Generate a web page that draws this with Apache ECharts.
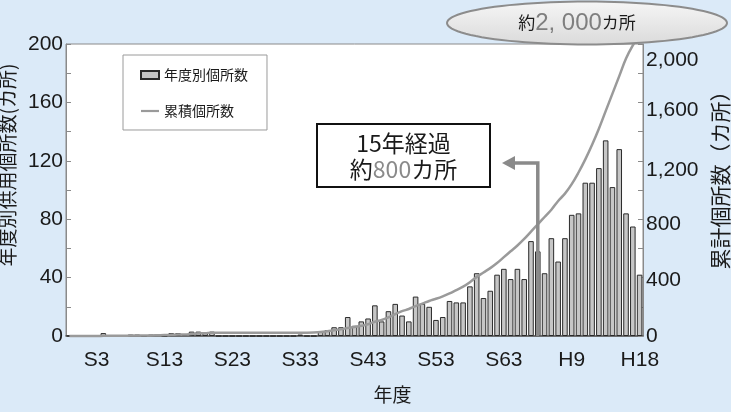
<!DOCTYPE html>
<html>
<head>
<meta charset="utf-8">
<script src="https://cdn.jsdelivr.net/npm/echarts@6/dist/echarts.min.js"></script>
<style>
  html, body { margin: 0; padding: 0; background: #dbeaf8; }
  #chart { width: 731px; height: 412px; }
</style>
</head>
<body>
<div id="chart"></div>
<script>
// Fiscal-year categories (Taisho / Showa / Heisei), one bar per year
const categories = [
  'T14','T15',
  'S1','S2','S3','S4','S5','S6','S7','S8','S9','S10',
  'S11','S12','S13','S14','S15','S16','S17','S18','S19','S20',
  'S21','S22','S23','S24','S25','S26','S27','S28','S29','S30',
  'S31','S32','S33','S34','S35','S36','S37','S38','S39','S40',
  'S41','S42','S43','S44','S45','S46','S47','S48','S49','S50',
  'S51','S52','S53','S54','S55','S56','S57','S58','S59','S60',
  'S61','S62','S63','S64',
  'H1','H2','H3','H4','H5','H6','H7','H8','H9','H10',
  'H11','H12','H13','H14','H15','H16','H17','H18','H19'
];

// Labelled years on the horizontal axis
const xTickLabels = ['S3','S13','S23','S33','S43','S53','S63','H9','H18'];

// Places brought into service each year (カ所)
const yearlyCount = [
  0, 0, 0, 0, 0, 2, 0, 0, 0, 1,
  1, 0, 1, 1, 0, 2, 2, 1, 3, 3,
  2, 3, 0, 0, 0, 0, 0, 0, 0, 0,
  0, 0, 0, 0, 1, 0, 0, 3, 4, 6,
  6, 13, 7, 10, 12, 21, 10, 17, 22, 14,
  10, 27, 22, 20, 11, 13, 24, 23, 23, 34,
  43, 26, 31, 42, 46, 39, 46, 39, 65, 58,
  43, 67, 51, 67, 83, 84, 105, 105, 115, 134,
  102, 128, 84, 75, 42
];

// Cumulative number of places (カ所)
const cumulativeCount = [
  0, 0, 0, 0, 0, 1, 2, 2, 2, 3,
  3, 4, 4, 5, 6, 8, 10, 11, 14, 17,
  19, 22, 22, 22, 22, 22, 22, 22, 22, 22,
  22, 22, 22, 22, 23, 23, 24, 27, 33, 40,
  46, 55, 62, 70, 80, 98, 110, 128, 150, 170,
  185, 205, 222, 240, 255, 272, 292, 315, 338, 368,
  405, 435, 465, 500, 540, 580, 620, 665, 715, 765,
  815, 865, 925, 975, 1040, 1120, 1210, 1310, 1420, 1540,
  1660, 1780, 1900, 1990, 2060
];

// Year marked by the "15 years elapsed" arrow
const markedYear = 'H4';

const CJK = '"Noto Sans CJK JP", sans-serif';
const LATIN = '"Liberation Sans", Arial, sans-serif';
const INK = '#1a1a1a';

// Right-axis labels sit a little below their ticks
const rightLabelDrop = { 0: 0, 400: 3, 800: 5, 1200: 9, 1600: 8, 2000: 16 };
const rightRich = {};
Object.keys(rightLabelDrop).forEach(v => {
  rightRich['v' + v] = {
    fontSize: 21, color: INK, fontFamily: LATIN,
    padding: [rightLabelDrop[v] * 2, 0, 0, 0]
  };
});

const chart = echarts.init(document.getElementById('chart'), null, { renderer: 'canvas' });

chart.setOption({
  animation: false,
  backgroundColor: '#dbeaf8',
  grid: {
    left: 66, right: 88, top: 44, bottom: 76,
    containLabel: false, outerBoundsMode: 'none',
    show: true, backgroundColor: '#ffffff', borderColor: '#8a8a8a', borderWidth: 1
  },
  legend: {
    orient: 'vertical',
    left: 123, top: 55,
    padding: [13, 19, 12, 17],
    itemGap: 22,
    itemWidth: 18, itemHeight: 8,
    backgroundColor: '#ffffff',
    borderColor: '#9a9a9a', borderWidth: 1,
    textStyle: { fontSize: 14, color: INK, fontFamily: CJK },
    data: [
      { name: '年度別個所数', icon: 'rect' },
      { name: '累積個所数', icon: 'path://M0,0h18v2.2h-18z' }
    ]
  },
  xAxis: {
    type: 'category',
    data: categories,
    axisLine: { lineStyle: { color: '#555', width: 1.5 } },
    axisTick: { show: false },
    axisLabel: {
      interval: (i, v) => xTickLabels.includes(v),
      fontSize: 21, color: INK, fontFamily: LATIN, margin: 14,
      formatter: v => (v === 'H18' ? '{last|' + v + '}' : v),
      rich: { last: { fontSize: 21, color: INK, fontFamily: LATIN, padding: [0, 0, 0, 14] } }
    },
    name: '年度',
    nameLocation: 'middle',
    nameGap: 49,
    nameTextStyle: { fontSize: 19, color: INK, fontFamily: CJK, padding: [0, 0, 0, 76] }
  },
  yAxis: [
    {
      type: 'value', position: 'left',
      min: 0, max: 200, interval: 40,
      axisLine: { show: true, lineStyle: { color: '#8a8a8a' } },
      axisTick: { show: true, inside: true, length: 5, lineStyle: { color: '#8a8a8a' } },
      minorTick: { show: true, splitNumber: 2, length: 5, lineStyle: { color: '#8a8a8a' } },
      splitLine: { show: false },
      axisLabel: { fontSize: 21, color: INK, fontFamily: LATIN, margin: 3 },
      name: '年度別供用個所数(カ所)',
      nameLocation: 'middle', nameRotate: 90, nameGap: 44,
      nameTextStyle: { fontSize: 19, color: INK, fontFamily: CJK, padding: [0, 0, 0, 50] }
    },
    {
      type: 'value', position: 'right',
      min: 0, max: 2000, interval: 400,
      axisLine: { show: true, lineStyle: { color: '#8a8a8a' } },
      axisTick: { show: true, inside: true, length: 5, lineStyle: { color: '#8a8a8a' } },
      minorTick: { show: true, splitNumber: 2, length: 5, lineStyle: { color: '#8a8a8a' } },
      splitLine: { show: false },
      axisLabel: {
        fontSize: 21, color: INK, fontFamily: LATIN, margin: 3,
        formatter: v => '{v' + v + '|' + echarts.format.addCommas(v) + '}',
        rich: rightRich
      },
      name: '累計個所数（カ所）',
      nameLocation: 'middle', nameRotate: 90, nameGap: 61,
      nameTextStyle: { fontSize: 21, color: INK, fontFamily: CJK, padding: [0, 0, 0, 30] }
    }
  ],
  series: [
    {
      name: '年度別個所数',
      type: 'bar',
      data: yearlyCount,
      barCategoryGap: '18%',
      itemStyle: { color: '#c6c6c6', borderColor: '#2b2b2b', borderWidth: 1 }
    },
    {
      name: '累積個所数',
      type: 'line',
      yAxisIndex: 1,
      data: cumulativeCount,
      smooth: 0.4,
      symbol: 'none',
      clip: false,
      z: 5,
      lineStyle: { color: '#9a9a9a', width: 2.5 },
      itemStyle: { color: '#9a9a9a' }
    }
  ]
});

// Annotations: arrow from the marked year, callout box and the total bubble
const arrowX = chart.convertToPixel({ xAxisIndex: 0 }, markedYear);
const baseY = chart.convertToPixel({ yAxisIndex: 0 }, 0);
const armY = 163;

const ellipsePts = [];
for (let k = 0; k < 96; k++) {
  const t = (k / 96) * Math.PI * 2;
  ellipsePts.push([587 + 140 * Math.cos(t), 23 + 21.5 * Math.sin(t)]);
}

chart.setOption({
  graphic: [
    {
      type: 'polyline', z: 100,
      shape: { points: [[arrowX, baseY], [arrowX, armY], [514, armY]] },
      style: { stroke: '#8a8a8a', lineWidth: 3.5, fill: null }
    },
    {
      type: 'polygon', z: 100,
      shape: { points: [[502, armY], [515, armY - 7], [515, armY + 7]] },
      style: { fill: '#8a8a8a' }
    },
    {
      type: 'rect', z: 100,
      shape: { x: 317, y: 124, width: 173, height: 63 },
      style: { fill: '#ffffff', stroke: '#111111', lineWidth: 2 }
    },
    {
      type: 'text', z: 101,
      style: {
        x: 403.5, y: 156,
        text: '15年経過\n約{g|800}カ所',
        align: 'center', verticalAlign: 'middle',
        fill: INK, font: '23px ' + CJK, lineHeight: 26,
        rich: { g: { fill: '#8a8a8a', font: '23px ' + CJK } }
      }
    },
    {
      type: 'polygon', z: 100,
      shape: { points: ellipsePts },
      style: {
        fill: new echarts.graphic.LinearGradient(0, 0, 0, 1, [
          { offset: 0, color: '#f6f6f6' },
          { offset: 1, color: '#dadada' }
        ]),
        stroke: '#8c8c8c', lineWidth: 2
      }
    },
    {
      type: 'text', z: 101,
      style: {
        x: 577, y: 23,
        text: '約{n|2, 000}カ所',
        align: 'center', verticalAlign: 'middle',
        fill: INK, font: '17px ' + CJK,
        rich: { n: { fill: '#7f7f7f', font: '24px ' + LATIN } }
      }
    }
  ]
});
</script>
</body>
</html>
